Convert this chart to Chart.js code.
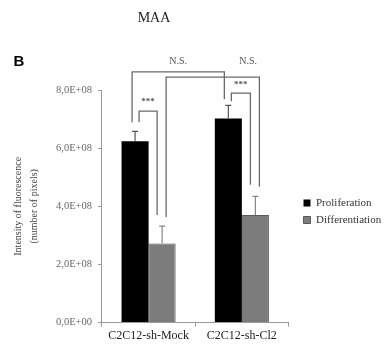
<!DOCTYPE html>
<html>
<head>
<meta charset="utf-8">
<script src="https://cdn.jsdelivr.net/npm/chart.js@4/dist/chart.umd.min.js"></script>
<style>
html,body{margin:0;padding:0;background:#fff;}
#wrap{position:relative;width:384px;height:349px;}
</style>
</head>
<body>
<div id="wrap"><canvas id="c" width="384" height="349"></canvas></div>
<script>
// ---- data ----
const categories = ['C2C12-sh-Mock', 'C2C12-sh-Cl2'];
const seriesNames = ['Proliferation', 'Differentiation'];
const proliferation = [6.24e8, 7.02e8];
const differentiation = [2.72e8, 3.70e8];
const proliferationErr = [0.34e8, 0.45e8];
const differentiationErr = [0.60e8, 0.64e8];
const yTicks = [0, 2e8, 4e8, 6e8, 8e8];
// significance brackets: [dataset, category] for each leg, bracket level, leg ends, label
const brackets = [
  {label: 'N.S.', a: [0, 0], b: [0, 1], level: 8.62e8, endA: 6.89e8, endB: 7.68e8, labelY: 9.0e8, labelPos: 0.5},
  {label: 'N.S.', a: [1, 0], b: [1, 1], level: 8.44e8, endA: 3.63e8, endB: 4.67e8, labelY: 9.0e8, labelPos: 0.88},
  {label: '***', a: [0, 0], b: [1, 0], level: 7.27e8, endA: 6.89e8, endB: 3.70e8, labelY: 7.61e8, labelPos: 0.5},
  {label: '***', a: [0, 1], b: [1, 1], level: 7.89e8, endA: 7.61e8, endB: 4.74e8, labelY: 8.17e8, labelPos: 0.5}
];
const legOffsets = [[-3, -4], [4, 4], [4, -5], [3, -5]];

function fmtTick(v) {
  if (v === 0) return '0,0E+00';
  const e = Math.floor(Math.log10(Math.abs(v)));
  const m = v / Math.pow(10, e);
  return m.toFixed(1).replace('.', ',') + 'E+' + String(e).padStart(2, '0');
}

const errors = [proliferationErr, differentiationErr];

const extras = {
  id: 'extras',
  beforeDraw(chart) {
    // nudge the legend block to sit like the reference's
    if (chart.legend) {
      chart.legend.left = chart.chartArea.right + 9;
      chart.legend.top = chart.legend.top - 12;
    }
  },
  afterDatasetsDraw(chart) {
    const ctx = chart.ctx;
    const y = chart.scales.y;
    ctx.save();
    // error bars (upper only)
    chart.data.datasets.forEach((ds, di) => {
      const meta = chart.getDatasetMeta(di);
      meta.data.forEach((bar, i) => {
        const top = y.getPixelForValue(ds.data[i] + errors[di][i]);
        const base = y.getPixelForValue(ds.data[i]);
        ctx.strokeStyle = di === 0 ? '#555' : '#888';
        ctx.lineWidth = 1.2;
        ctx.beginPath();
        ctx.moveTo(bar.x, base);
        ctx.lineTo(bar.x, top);
        ctx.moveTo(bar.x - 3, top);
        ctx.lineTo(bar.x + 3, top);
        ctx.stroke();
      });
    });
    // brackets
    ctx.strokeStyle = '#6a6a6a';
    ctx.lineWidth = 1.3;
    brackets.forEach((br, k) => {
      const xa = chart.getDatasetMeta(br.a[0]).data[br.a[1]].x + legOffsets[k][0];
      const xb = chart.getDatasetMeta(br.b[0]).data[br.b[1]].x + legOffsets[k][1];
      const yl = y.getPixelForValue(br.level);
      ctx.beginPath();
      ctx.moveTo(xa, y.getPixelForValue(br.endA));
      ctx.lineTo(xa, yl);
      ctx.lineTo(xb, yl);
      ctx.lineTo(xb, y.getPixelForValue(br.endB));
      ctx.stroke();
      ctx.fillStyle = '#555';
      ctx.textAlign = 'center';
      ctx.textBaseline = 'middle';
      ctx.font = br.label === '***' ? 'bold 9px "Liberation Serif"' : '10px "Liberation Serif"';
      ctx.fillText(br.label, xa + (xb - xa) * br.labelPos, y.getPixelForValue(br.labelY));
    });
    ctx.restore();
  },
  afterDraw(chart) {
    const ctx = chart.ctx;
    ctx.save();
    ctx.fillStyle = '#222';
    ctx.textAlign = 'center';
    ctx.textBaseline = 'middle';
    ctx.font = '14px "Liberation Serif"';
    ctx.fillText('MAA', 154, 18);
    ctx.font = 'bold 15px "Liberation Sans"';
    ctx.fillStyle = '#000';
    ctx.fillText('B', 19, 62);
    ctx.restore();
  }
};

new Chart(document.getElementById('c'), {
  type: 'bar',
  data: {
    labels: categories,
    datasets: [
      {label: seriesNames[0], data: proliferation, backgroundColor: '#000', borderColor: '#000', borderWidth: 0},
      {label: seriesNames[1], data: differentiation, backgroundColor: '#7c7c7c', borderColor: '#5a5a5a', borderWidth: 1}
    ]
  },
  options: {
    responsive: false,
    animation: false,
    devicePixelRatio: 1,
    layout: {padding: {top: 90, left: 11, right: 3, bottom: 4}},
    datasets: {bar: {barPercentage: 1, categoryPercentage: 0.58}},
    plugins: {
      title: {display: false},
      tooltip: {enabled: false},
      legend: {
        position: 'right',
        labels: {
          boxWidth: 7, boxHeight: 7, padding: 6,
          color: '#333',
          font: {family: '"Liberation Serif"', size: 11}
        }
      }
    },
    scales: {
      x: {
        grid: {display: true, drawOnChartArea: false, drawTicks: true, tickLength: 4, color: '#999', offset: true},
        border: {display: true, color: '#999', width: 1},
        ticks: {color: '#222', font: {family: '"Liberation Serif"', size: 12}, padding: 2}
      },
      y: {
        min: 0, max: 8e8,
        afterBuildTicks(axis) { axis.ticks = yTicks.map(v => ({value: v})); },
        grid: {display: true, drawOnChartArea: false, drawTicks: true, tickLength: 4, color: '#999'},
        border: {display: true, color: '#999', width: 1},
        ticks: {color: '#666', font: {family: '"Liberation Serif"', size: 10.5}, padding: 6, callback: v => fmtTick(v)},
        title: {
          display: true,
          text: ['Intensity of fluorescence', '(number of pixels)'],
          color: '#444',
          font: {family: '"Liberation Serif"', size: 10, lineHeight: 1.55},
          padding: {top: 0, bottom: 8}
        }
      }
    }
  },
  plugins: [extras]
});
</script>
</body>
</html>
